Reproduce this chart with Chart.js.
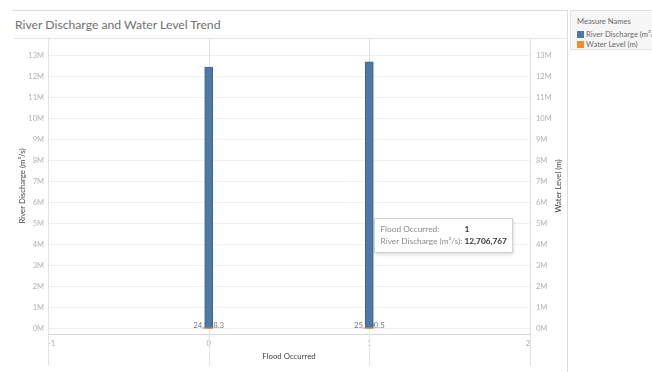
<!DOCTYPE html>
<html>
<head>
<meta charset="utf-8">
<script src="https://cdn.jsdelivr.net/npm/chart.js@4.4.1/dist/chart.umd.min.js"></script>
<style>
  html, body { margin: 0; padding: 0; background: #fff; }
  body { width: 652px; height: 372px; position: relative; overflow: hidden; font-family: Lato, "Open Sans", sans-serif; }
  #chart { position: absolute; left: 0; top: 0; }
  .rule { position: absolute; background: #dcdcdc; }
  #title { position: absolute; left: 15px; top: 17px; font-size: 12.2px; color: #707070; white-space: nowrap; }
  #legend { position: absolute; left: 570px; top: 10px; width: 100px; height: 40px; background: #f6f6f6; border: 1px solid #e2e2e2; box-sizing: border-box; font-size: 7.6px; color: #6a6a6a; }
  #legend .head { position: absolute; left: 6px; top: 5px; }
  #legend .item { position: absolute; left: 6px; white-space: nowrap; }
  #legend .sw { display: inline-block; width: 7px; height: 7px; vertical-align: -1px; margin-right: 2px; }
</style>
</head>
<body>
<div class="rule" style="left:12px; top:10px; width:555px; height:1px;"></div>
<div class="rule" style="left:14px; top:38px; width:553px; height:1px; background:#e4e4e4;"></div>
<div class="rule" style="left:567px; top:10px; width:1px; height:362px;"></div>
<div id="title">River Discharge and Water Level Trend</div>
<div id="legend">
  <div class="head">Measure Names</div>
  <div class="item" style="top:18px;"><span class="sw" style="background:#4e79a7"></span>River Discharge (m³/s)</div>
  <div class="item" style="top:28px;"><span class="sw" style="background:#f28e2b"></span>Water Level (m)</div>
</div>
<canvas id="chart" width="652" height="372"></canvas>
<script>
// Flood flag categories and the summed measures for each
const floodOccurred = [0, 1];
const riverDischarge = [12460000, 12706767];
const waterLevel = [24878.3, 25300.5];
const xTicks = [-1, 0, 1, 2];
const yTicks = [0, 1e6, 2e6, 3e6, 4e6, 5e6, 6e6, 7e6, 8e6, 9e6, 10e6, 11e6, 12e6, 13e6];
const seriesNames = ['River Discharge (m³/s)', 'Water Level (m)'];

const FONT = 'Lato, "Open Sans", sans-serif';
const tickFont = { family: FONT, size: 7.5 };
const axisTitleFont = { family: FONT, size: 7.8 };

const fmtInt = v => v.toLocaleString('en-US', { maximumFractionDigits: 0 });
const fmtOne = v => v.toLocaleString('en-US', { minimumFractionDigits: 1, maximumFractionDigits: 1 });

// Vertical rules at each Flood Occurred tick, running down through the axis band
const paneRules = {
  id: 'paneRules',
  beforeDatasetsDraw(chart) {
    const { ctx, chartArea, scales } = chart;
    ctx.save();
    ctx.strokeStyle = '#e2e2e2';
    ctx.lineWidth = 1;
    xTicks.forEach(t => {
      const x = Math.round(scales.x.getPixelForValue(t)) + 0.5;
      ctx.beginPath();
      ctx.moveTo(x, chartArea.top);
      ctx.lineTo(x, 366);
      ctx.stroke();
    });
    // value labels of the water-level marks, sitting behind the bars
    const meta = chart.getDatasetMeta(1);
    ctx.font = '7.8px ' + FONT;
    ctx.fillStyle = '#777';
    ctx.textAlign = 'center';
    ctx.textBaseline = 'middle';
    meta.data.forEach((el, i) => {
      ctx.fillText(fmtOne(waterLevel[i]), el.x, el.y - 2);
    });
    ctx.restore();
  },
  afterDraw(chart) {
    // right axis title, reading bottom to top like the left one
    const { ctx, chartArea, scales } = chart;
    ctx.save();
    ctx.translate(scales.y1.right - 9, (chartArea.top + chartArea.bottom) / 2);
    ctx.rotate(-Math.PI / 2);
    ctx.font = '7.8px ' + FONT;
    ctx.fillStyle = '#444';
    ctx.textAlign = 'center';
    ctx.textBaseline = 'middle';
    ctx.fillText(seriesNames[1], 0, 0);
    ctx.restore();
  }
};

// Hover card for the Flood Occurred = 1 bar
const hoverCard = {
  id: 'hoverCard',
  afterDraw(chart) {
    const { ctx } = chart;
    const el = chart.getDatasetMeta(0).data[1];
    const left = Math.round(el.x) + 5.5, top = 218.5, w = 138, h = 34;
    ctx.save();
    ctx.shadowColor = 'rgba(0,0,0,0.18)';
    ctx.shadowBlur = 4;
    ctx.shadowOffsetY = 1;
    ctx.fillStyle = '#fff';
    ctx.fillRect(left, top, w, h);
    ctx.shadowColor = 'transparent';
    ctx.strokeStyle = '#d2d2d2';
    ctx.strokeRect(left, top, w, h);
    ctx.textBaseline = 'middle';
    ctx.textAlign = 'left';
    ctx.font = '8.3px ' + FONT;
    ctx.fillStyle = '#8a8a8a';
    ctx.fillText('Flood Occurred:', left + 6, top + 11);
    ctx.fillText(seriesNames[0] + ':', left + 6, top + 23);
    ctx.font = 'bold 8.3px ' + FONT;
    ctx.fillStyle = '#333';
    ctx.fillText(String(floodOccurred[1]), left + 90, top + 11);
    ctx.fillText(fmtInt(riverDischarge[1]), left + 90, top + 23);
    ctx.restore();
  }
};

const millions = v => (v / 1e6) + 'M';
const setYTicks = s => { s.ticks = yTicks.map(v => ({ value: v })); };

new Chart(document.getElementById('chart'), {
  type: 'bar',
  data: {
    datasets: [
      {
        label: seriesNames[0],
        data: floodOccurred.map((f, i) => ({ x: f, y: riverDischarge[i] })),
        yAxisID: 'y',
        backgroundColor: '#4e79a7',
        borderColor: '#3d668f',
        borderWidth: 1,
        barThickness: 8,
        grouped: false,
        order: 1
      },
      {
        label: seriesNames[1],
        data: floodOccurred.map((f, i) => ({ x: f, y: waterLevel[i] })),
        yAxisID: 'y1',
        backgroundColor: '#f28e2b',
        barThickness: 8,
        grouped: false,
        minBarLength: 1,
        order: 0
      }
    ]
  },
  options: {
    responsive: false,
    animation: false,
    events: [],
    layout: { padding: { left: 15, top: 38, right: 85, bottom: 0 } },
    plugins: {
      legend: { display: false },
      tooltip: { enabled: false }
    },
    scales: {
      x: {
        type: 'linear',
        offset: false,
        min: -1,
        max: 2,
        afterBuildTicks: s => { s.ticks = xTicks.map(v => ({ value: v })); },
        ticks: { font: tickFont, color: '#a8a8a8', padding: 5, align: 'inner', maxRotation: 0 },
        grid: { display: false, drawTicks: false, offset: false },
        border: { display: true, color: '#d6d6d6' },
        title: { display: true, text: 'Flood Occurred', font: axisTitleFont, color: '#444', padding: { top: 0, bottom: 10.5 } },
        afterFit: s => { s.height = 38; }
      },
      y: {
        position: 'left',
        min: -240000,
        max: 13840000,
        afterBuildTicks: setYTicks,
        ticks: { font: tickFont, color: '#b0b0b0', padding: 4, callback: millions, autoSkip: false },
        grid: { color: '#f0f0f0', drawTicks: false },
        border: { display: false },
        title: { display: true, text: seriesNames[0], font: axisTitleFont, color: '#444', padding: { top: 2.5, bottom: 0 } },
        afterFit: s => { s.width = 33; }
      },
      y1: {
        position: 'right',
        min: -240000,
        max: 13840000,
        afterBuildTicks: setYTicks,
        ticks: { font: tickFont, color: '#b0b0b0', padding: 6, callback: millions, autoSkip: false },
        grid: { drawOnChartArea: false, drawTicks: false },
        border: { display: false },
        title: { display: false },
        afterFit: s => { s.width = 37; }
      }
    }
  },
  plugins: [paneRules, hoverCard]
});
</script>
</body>
</html>
